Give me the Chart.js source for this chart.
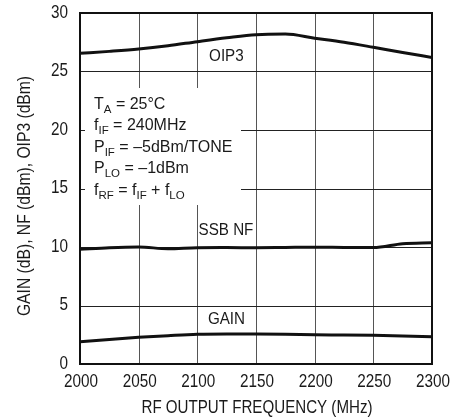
<!DOCTYPE html>
<html>
<head>
<meta charset="utf-8">
<script src="https://cdn.jsdelivr.net/npm/chart.js@4"></script>
<style>
  html, body { margin: 0; padding: 0; background: #fff; }
</style>
</head>
<body>
<canvas id="chart" width="457" height="420"></canvas>
<script>
const FONT = "'Liberation Sans', Arial, sans-serif";

// data
const freqs = [2000, 2025, 2050, 2075, 2100, 2125, 2150, 2175, 2200, 2225, 2250, 2275, 2300];
const oip3 = [26.55, 26.72, 26.92, 27.2, 27.55, 27.88, 28.15, 28.2, 27.85, 27.5, 27.07, 26.62, 26.2];
const ssbNF = [9.8, 9.94, 10.0, 9.85, 9.94, 9.95, 9.94, 9.96, 9.98, 9.96, 9.95, 10.28, 10.37];
const gain = [1.9, 2.1, 2.28, 2.42, 2.54, 2.57, 2.56, 2.54, 2.5, 2.48, 2.45, 2.4, 2.33];
const xTicks = [2000, 2050, 2100, 2150, 2200, 2250, 2300];
const yTicks = [0, 5, 10, 15, 20, 25, 30];
const xTitle = 'RF OUTPUT FREQUENCY (MHz)';
const yTitle = 'GAIN (dB), NF (dBm), OIP3 (dBm)';

const curveLabels = [
  { text: 'OIP3', x: 2110, y: 26.24 },
  { text: 'SSB NF', x: 2101, y: 11.37 },
  { text: 'GAIN', x: 2109, y: 3.76 }
];

// conditions box, each line is a list of [text, isSubscript]
const notes = [
  [['T', 0], ['A', 1], [' = 25°C', 0]],
  [['f', 0], ['IF', 1], [' = 240MHz', 0]],
  [['P', 0], ['IF', 1], [' = –5dBm/TONE', 0]],
  [['P', 0], ['LO', 1], [' = –1dBm', 0]],
  [['f', 0], ['RF', 1], [' = f', 0], ['IF', 1], [' + f', 0], ['LO', 1]]
];

function pts(ys) {
  return freqs.map((f, i) => ({ x: f, y: ys[i] }));
}

// the reference uses a condensed face, squeeze the regular one
function narrow(ctx, text, x, y, sx) {
  ctx.save();
  ctx.translate(x, y);
  ctx.scale(sx, 1);
  ctx.fillText(text, 0, 0);
  ctx.restore();
}

const framePlugin = {
  id: 'frame',
  beforeDatasetsDraw(chart) {
    const { ctx, chartArea: a, scales } = chart;
    ctx.save();
    // grid
    ctx.lineWidth = 1;
    ctx.strokeStyle = '#555';
    scales.x.ticks.forEach(t => {
      const x = Math.round(scales.x.getPixelForValue(t.value)) + 0.5;
      ctx.beginPath(); ctx.moveTo(x, a.top); ctx.lineTo(x, a.bottom); ctx.stroke();
    });
    ctx.strokeStyle = '#222';
    scales.y.ticks.forEach(t => {
      const y = Math.round(scales.y.getPixelForValue(t.value)) + 0.5;
      ctx.beginPath(); ctx.moveTo(a.left, y); ctx.lineTo(a.right, y); ctx.stroke();
    });
    // blank the area behind the conditions text
    ctx.fillStyle = '#fff';
    ctx.fillRect(a.left + 1.5, 88, 241 - a.left - 1.5, 117);
    // small ticks left inside the box
    [15, 20].forEach(v => {
      const y = Math.round(scales.y.getPixelForValue(v)) + 0.5;
      ctx.beginPath(); ctx.moveTo(a.left, y); ctx.lineTo(a.left + 5, y); ctx.stroke();
    });
    // outer frame
    ctx.strokeStyle = '#111';
    ctx.lineWidth = 2;
    ctx.strokeRect(a.left, a.top, a.right - a.left, a.bottom - a.top);
    ctx.restore();
  },
  afterDraw(chart) {
    const { ctx, chartArea: a, scales } = chart;
    ctx.save();
    ctx.fillStyle = '#1a1a1a';

    // tick labels and axis titles
    ctx.font = '18px ' + FONT;
    ctx.textBaseline = 'middle';
    ctx.textAlign = 'right';
    scales.y.ticks.forEach(t => {
      narrow(ctx, String(t.value), 68, scales.y.getPixelForValue(t.value), 0.85);
    });
    ctx.textAlign = 'center';
    scales.x.ticks.forEach(t => {
      narrow(ctx, String(t.value), scales.x.getPixelForValue(t.value) + 1, 382.5, 0.85);
    });
    narrow(ctx, xTitle, (a.left + a.right) / 2 + 1, 408, 0.84);
    ctx.save();
    ctx.translate(25.5, 196);
    ctx.rotate(-Math.PI / 2);
    narrow(ctx, yTitle, 0, 0, 0.87);
    ctx.restore();

    // curve names
    ctx.textAlign = 'left';
    ctx.font = '16px ' + FONT;
    curveLabels.forEach(l => {
      narrow(ctx, l.text, scales.x.getPixelForValue(l.x), scales.y.getPixelForValue(l.y), 0.95);
    });

    // test conditions
    ctx.textBaseline = 'alphabetic';
    let base = 108.5;
    notes.forEach(line => {
      let x = 94;
      line.forEach(([t, sub]) => {
        ctx.font = (sub ? '11.5px ' : '16px ') + FONT;
        ctx.fillText(t, x, base + (sub ? 4 : 0));
        x += ctx.measureText(t).width;
      });
      base += 21.5;
    });
    ctx.restore();
  }
};

const lineStyle = {
  borderColor: '#111',
  borderWidth: 3,
  pointRadius: 0,
  fill: false,
  cubicInterpolationMode: 'monotone'
};

new Chart(document.getElementById('chart'), {
  type: 'line',
  data: {
    datasets: [
      Object.assign({ label: 'OIP3', data: pts(oip3) }, lineStyle),
      Object.assign({ label: 'SSB NF', data: pts(ssbNF) }, lineStyle),
      Object.assign({ label: 'GAIN', data: pts(gain) }, lineStyle)
    ]
  },
  options: {
    responsive: false,
    animation: false,
    layout: { padding: { top: 13, right: 25, left: 0, bottom: 0 } },
    plugins: { legend: { display: false }, tooltip: { enabled: false } },
    scales: {
      x: {
        type: 'linear',
        min: 2000,
        max: 2300,
        afterBuildTicks: s => { s.ticks = xTicks.map(v => ({ value: v })); },
        afterFit: s => { s.height = 56; },
        grid: { display: false },
        border: { display: false },
        ticks: { display: false }
      },
      y: {
        min: 0,
        max: 30,
        afterBuildTicks: s => { s.ticks = yTicks.map(v => ({ value: v })); },
        afterFit: s => { s.width = 80; },
        grid: { display: false },
        border: { display: false },
        ticks: { display: false }
      }
    }
  },
  plugins: [framePlugin]
});
</script>
</body>
</html>
